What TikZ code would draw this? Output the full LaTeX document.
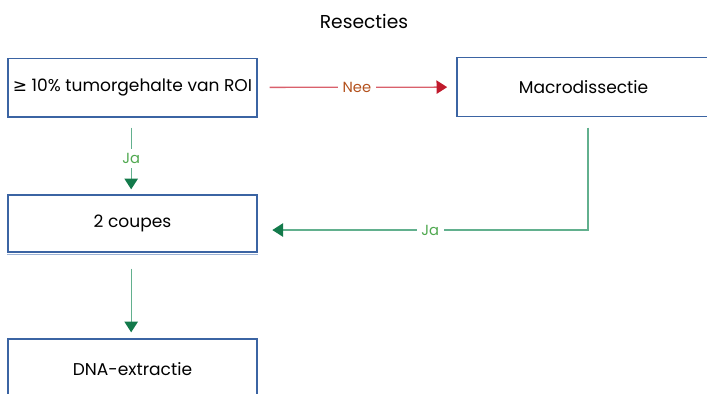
\documentclass[tikz,border=0pt]{standalone}
\usepackage{fontspec}
\setmainfont{Poppins}
\newfontfamily\symfont{DejaVu Sans}
\usetikzlibrary{arrows.meta}

\definecolor{boxblue}{HTML}{3B64A3}
\definecolor{shadeblue}{HTML}{9DB3D6}
\definecolor{neeline}{HTML}{D9606C}
\definecolor{neehead}{HTML}{C01A2C}
\definecolor{neetext}{HTML}{B4521E}
\definecolor{jaline}{HTML}{62B08E}
\definecolor{jahead}{HTML}{137A4B}
\definecolor{jatext}{HTML}{4FA84F}

\tikzset{
    stepbox/.style={draw=boxblue, line width=1pt, fill=white, minimum width=186.75pt,
        minimum height=44pt, inner sep=0pt, font=\fontsize{12.8}{15}\selectfont},
    nee/.style={draw=neeline, line width=1pt,
        -{Triangle[width=10pt,length=8pt,color=neehead,fill=neehead]}},
    ja/.style={draw=jaline, line width=1pt,
        -{Triangle[width=10pt,length=8pt,color=jahead,fill=jahead]}},
    lbl/.style={fill=white, inner sep=3.5pt, font=\fontsize{11}{13}\selectfont}
}

\begin{document}
\begin{tikzpicture}[x=0.75pt, y=-0.75pt]
    \clip (0,0) rectangle (707,393);
    \useasboundingbox (0,0) rectangle (707,393);
    \node [font=\fontsize{14}{16}\selectfont] (title) at (364,21) {Resecties};

    % boxes
    \node [stepbox] (roi) at (132.5,87.5) {{\symfont ≥} 10\% tumorgehalte van ROI};
    \node [stepbox, minimum width=190pt] (macro) at (583.5,87) {Macrodissectie};
    \node [stepbox, minimum height=42.75pt] (coupes) at (132.5,223.5) {2 coupes};
    \draw [shadeblue, line width=0.8pt] ([yshift=-1.4pt]coupes.south west) -- ([yshift=-1.4pt]coupes.south east);
    \node [stepbox, minimum height=45pt] (dna) at (132.5,369) {DNA-extractie};

    % arrows
    \draw [nee, shorten <=9pt, shorten >=6.75pt] (roi) -- node[lbl, text=neetext]{Nee} (macro);
    \draw [ja] ([xshift=-1pt,yshift=-7.5pt]roi.south) -- node[lbl, text=jatext]{Ja} ([xshift=-1pt,yshift=3.75pt]coupes.north);
    \draw [ja] ([xshift=3.4pt,yshift=-8pt]macro.south) |- node[lbl, text=jatext, pos=0.75]{Ja} ([xshift=11pt,yshift=-4.9pt]coupes.east);
    \draw [ja] ([xshift=-1pt,yshift=-12pt]coupes.south) -- ([xshift=-1pt,yshift=4.5pt]dna.north);
\end{tikzpicture}
\end{document}
